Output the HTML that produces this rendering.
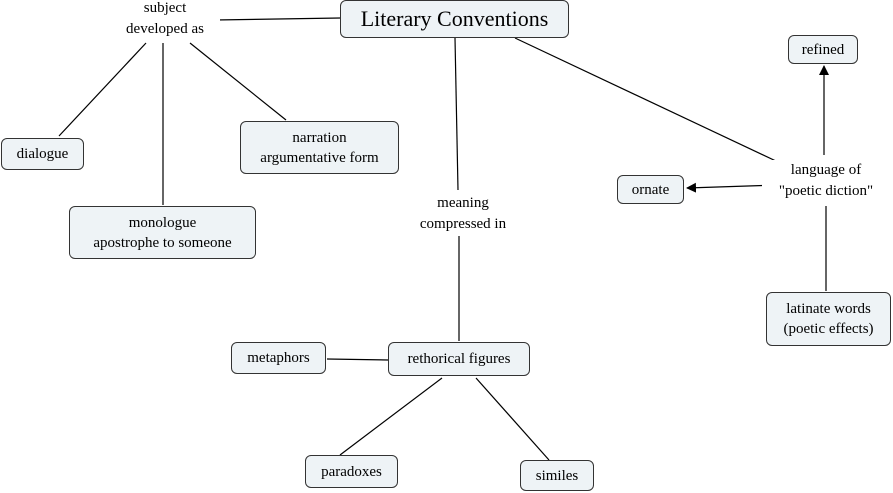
<!DOCTYPE html>
<html><head><meta charset="utf-8"><style>
body{margin:0;width:893px;height:493px;background:#fff;position:relative;overflow:hidden;font-family:"Liberation Serif",serif;color:#000}
.b{position:absolute;box-sizing:border-box;border:1px solid #333;border-radius:6px;background:#eef3f6;display:flex;align-items:center;justify-content:center;text-align:center;font-size:15px;line-height:20px}
.l{position:absolute;text-align:center;font-size:15px;line-height:21px;background:#fff}
svg{position:absolute;left:0;top:0}
</style></head><body>
<svg width="893" height="493">
<defs><marker id="a" markerWidth="10" markerHeight="10" refX="9" refY="5" orient="auto" markerUnits="userSpaceOnUse"><path d="M0,0 L10,5 L0,10 z" fill="#000"/></marker></defs>
<g stroke="#000" stroke-width="1.2" fill="none">
<line x1="215" y1="20" x2="340" y2="18"/>
<line x1="146" y1="43" x2="59" y2="136"/>
<line x1="163" y1="43" x2="163" y2="205"/>
<line x1="190" y1="43" x2="286" y2="120"/>
<line x1="455" y1="38" x2="458" y2="190"/>
<line x1="459" y1="236" x2="459" y2="341"/>
<line x1="515" y1="38" x2="778" y2="162"/>
<line x1="826" y1="206" x2="826" y2="291"/>
<line x1="777" y1="185" x2="687" y2="188" marker-end="url(#a)"/>
<line x1="824" y1="155" x2="824" y2="66" marker-end="url(#a)"/>
<line x1="327" y1="359" x2="388" y2="360"/>
<line x1="442" y1="378" x2="340" y2="455"/>
<line x1="476" y1="378" x2="549" y2="460"/>
</g></svg>
<div class="b" style="left:340px;top:0;width:229px;height:38px;font-size:22px">Literary Conventions</div>
<div class="b" style="left:1px;top:138px;width:83px;height:32px">dialogue</div>
<div class="b" style="left:240px;top:121px;width:159px;height:53px">narration<br>argumentative form</div>
<div class="b" style="left:69px;top:206px;width:187px;height:53px">monologue<br>apostrophe to someone</div>
<div class="b" style="left:788px;top:35px;width:70px;height:29px">refined</div>
<div class="b" style="left:617px;top:175px;width:67px;height:29px">ornate</div>
<div class="b" style="left:766px;top:292px;width:125px;height:54px">latinate words<br>(poetic effects)</div>
<div class="b" style="left:231px;top:342px;width:95px;height:32px">metaphors</div>
<div class="b" style="left:388px;top:342px;width:142px;height:34px">rethorical figures</div>
<div class="b" style="left:305px;top:455px;width:93px;height:33px">paradoxes</div>
<div class="b" style="left:520px;top:460px;width:74px;height:31px">similes</div>
<div class="l" style="left:110px;top:-2px;width:110px">subject<br>developed as</div>
<div class="l" style="left:408px;top:193px;width:110px">meaning<br>compressed in</div>
<div class="l" style="left:762px;top:160px;width:128px">language of<br>"poetic diction"</div>
</body></html>
